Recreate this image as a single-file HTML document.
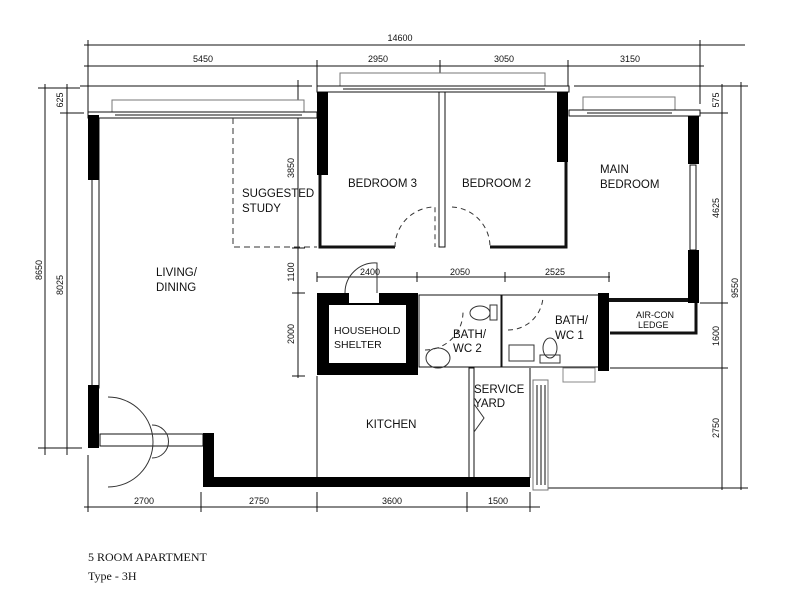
<!DOCTYPE html>
<html><head><meta charset="utf-8"><style>
html,body{margin:0;padding:0;background:#fff;}
svg{display:block;}
text{font-family:"Liberation Sans",Arial,sans-serif;fill:#111;}
.d{font-size:9px;}
.l{font-size:11.5px;}
</style></head><body>
<svg width="797" height="600" viewBox="0 0 797 600" xmlns="http://www.w3.org/2000/svg">
<g stroke="#111" stroke-width="1" fill="none">
<line x1="84" y1="45" x2="745" y2="45"/>
<line x1="84" y1="66" x2="704" y2="66"/>
<line x1="80" y1="86" x2="312" y2="86"/>
<line x1="574" y1="86" x2="748" y2="86"/>
<line x1="88" y1="40" x2="88" y2="113"/>
<line x1="317" y1="60" x2="317" y2="86"/>
<line x1="440" y1="60" x2="440" y2="86"/>
<line x1="568" y1="60" x2="568" y2="86"/>
<line x1="700" y1="40" x2="700" y2="104"/>
<line x1="298" y1="80" x2="298" y2="378"/>
<line x1="45" y1="84" x2="45" y2="455"/>
<line x1="67" y1="84" x2="67" y2="455"/>
<line x1="38" y1="88" x2="80" y2="88"/>
<line x1="60" y1="113" x2="84" y2="113"/>
<line x1="38" y1="448" x2="82" y2="448"/>
<line x1="722" y1="84" x2="722" y2="490"/>
<line x1="741" y1="82" x2="741" y2="490"/>
<line x1="700" y1="113" x2="728" y2="113"/>
<line x1="700" y1="303" x2="728" y2="303"/>
<line x1="610" y1="368" x2="728" y2="368"/>
<line x1="534" y1="488" x2="748" y2="488"/>
<line x1="292" y1="248" x2="305" y2="248"/>
<line x1="292" y1="293" x2="305" y2="293"/>
<line x1="292" y1="376" x2="305" y2="376"/>
<line x1="317" y1="277" x2="610" y2="277"/>
<line x1="317" y1="272" x2="317" y2="282"/>
<line x1="417" y1="272" x2="417" y2="282"/>
<line x1="505" y1="272" x2="505" y2="282"/>
<line x1="609" y1="272" x2="609" y2="282"/>
<line x1="84" y1="507" x2="540" y2="507"/>
<line x1="88" y1="455" x2="88" y2="512"/>
<line x1="201" y1="492" x2="201" y2="512"/>
<line x1="317" y1="492" x2="317" y2="512"/>
<line x1="467" y1="492" x2="467" y2="512"/>
<line x1="530" y1="492" x2="530" y2="512"/>
</g>
<g class="d" text-anchor="middle">
<text x="400" y="41">14600</text>
<text x="203" y="62">5450</text>
<text x="378" y="62">2950</text>
<text x="504" y="62">3050</text>
<text x="630" y="62">3150</text>
<text x="370" y="275">2400</text>
<text x="460" y="275">2050</text>
<text x="555" y="275">2525</text>
<text x="144" y="504">2700</text>
<text x="259" y="504">2750</text>
<text x="392" y="504">3600</text>
<text x="498" y="504">1500</text>
<text transform="translate(42,270) rotate(-90)">8650</text>
<text transform="translate(63,285) rotate(-90)">8025</text>
<text transform="translate(63,100) rotate(-90)">625</text>
<text transform="translate(294,168) rotate(-90)">3850</text>
<text transform="translate(294,272) rotate(-90)">1100</text>
<text transform="translate(294,334) rotate(-90)">2000</text>
<text transform="translate(719,100) rotate(-90)">575</text>
<text transform="translate(719,208) rotate(-90)">4625</text>
<text transform="translate(719,336) rotate(-90)">1600</text>
<text transform="translate(719,428) rotate(-90)">2750</text>
<text transform="translate(738,288) rotate(-90)">9550</text>
</g>
<g stroke="#111" stroke-width="1" fill="#fff">
<polyline points="112,113 112,100 304,100 304,113" stroke="#777"/>
<polyline points="340,86 340,73 545,73 545,86" stroke="#777"/>
<polyline points="583,110 583,97 675,97 675,110" stroke="#777"/>
<rect x="88" y="112" width="229" height="6"/>
<line x1="115" y1="115" x2="302" y2="115"/>
<rect x="317" y="86" width="252" height="6"/>
<line x1="343" y1="89" x2="545" y2="89"/>
<rect x="569" y="110" width="131" height="6"/>
<line x1="587" y1="113" x2="672" y2="113"/>
<rect x="92" y="118" width="7" height="270"/>
<polyline points="320,175 320,247 395,247" fill="none" stroke-width="3"/>
<rect x="439" y="92" width="6" height="155"/>
<polyline points="490,247 566,247 566,160" fill="none" stroke-width="3"/>
<line x1="569" y1="300" x2="690" y2="300" stroke-width="4"/>
<rect x="690" y="165" width="6" height="85"/>
<polyline points="610,333 696,333 696,303" fill="none" stroke-width="3"/>
<rect x="419" y="295" width="82" height="72"/>
<rect x="502" y="295" width="97" height="72"/>
<line x1="317" y1="376" x2="317" y2="478"/>
<rect x="469" y="368" width="5" height="110"/>
<line x1="530" y1="368" x2="530" y2="478"/>
<rect x="533" y="380" width="15" height="110" stroke="#777"/>
<line x1="537" y1="385" x2="537" y2="485"/><line x1="541" y1="385" x2="541" y2="485"/><line x1="545" y1="385" x2="545" y2="485"/>
<rect x="563" y="368" width="32" height="14" stroke="#888"/>
<rect x="100" y="434" width="103" height="12"/>
</g>
<g fill="#000">
<rect x="88" y="115" width="11" height="65"/>
<rect x="88" y="385" width="11" height="63"/>
<rect x="317" y="92" width="11" height="83"/>
<rect x="557" y="92" width="11" height="70"/>
<rect x="688" y="116" width="11" height="48"/>
<rect x="688" y="250" width="11" height="53"/>
<rect x="598" y="293" width="11" height="78"/>
<rect x="203" y="433" width="11" height="54"/>
<rect x="203" y="477" width="327" height="10"/>
<path d="M317,293 H418 V375 H317 Z M329,305 V363 H406 V305 Z" fill-rule="evenodd"/>
<rect x="349" y="293" width="30" height="10" fill="#fff"/>
</g>
<g stroke="#333" stroke-width="1" fill="none">
<polyline points="233,118 233,247 317,247" stroke-dasharray="6,4"/>
<path d="M395,247 A40,40 0 0 1 435,207 V247" stroke-dasharray="5,4"/>
<path d="M452,207 A40,40 0 0 1 490,247" stroke-dasharray="5,4"/>
<path d="M345,293 A30,30 0 0 1 377,263 V293"/>
<path d="M425,350 A38,38 0 0 0 463,312" stroke-dasharray="5,4"/>
<path d="M508,330 A35,35 0 0 0 543,297" stroke-dasharray="5,4"/>
<path d="M108,397 A45,45 0 0 1 108,487"/>
<path d="M152,425 A10,10 0 0 1 152,458"/>
<polyline points="474,404 484,418 474,432"/>
<ellipse cx="438" cy="358" rx="12" ry="10"/>
<ellipse cx="480" cy="313" rx="10" ry="7"/><rect x="490" y="305" width="7" height="15"/>
<rect x="509" y="345" width="25" height="16"/>
<ellipse cx="550" cy="348" rx="7" ry="10"/><rect x="540" y="355" width="20" height="8"/>
</g>
<g class="l">
<text x="242" y="197">SUGGESTED</text><text x="242" y="212">STUDY</text>
<text x="348" y="187">BEDROOM 3</text>
<text x="462" y="187">BEDROOM 2</text>
<text x="600" y="173">MAIN</text><text x="600" y="188">BEDROOM</text>
<text x="156" y="276">LIVING/</text><text x="156" y="291">DINING</text>
<text x="334" y="334" style="font-size:10.5px">HOUSEHOLD</text><text x="334" y="348" style="font-size:10.5px">SHELTER</text>
<text x="453" y="338">BATH/</text><text x="453" y="352">WC 2</text>
<text x="555" y="324">BATH/</text><text x="555" y="339">WC 1</text>
<text x="474" y="393">SERVICE</text><text x="474" y="407">YARD</text>
<text x="366" y="428">KITCHEN</text>
</g>
<text x="636" y="318" font-size="9">AIR-CON</text><text x="638" y="328" font-size="9">LEDGE</text>
<text x="88" y="561" style="font-family:'Liberation Serif',serif;font-size:12px">5 ROOM APARTMENT</text>
<text x="88" y="580" style="font-family:'Liberation Serif',serif;font-size:12px">Type - 3H</text>
</svg>
</body></html>
